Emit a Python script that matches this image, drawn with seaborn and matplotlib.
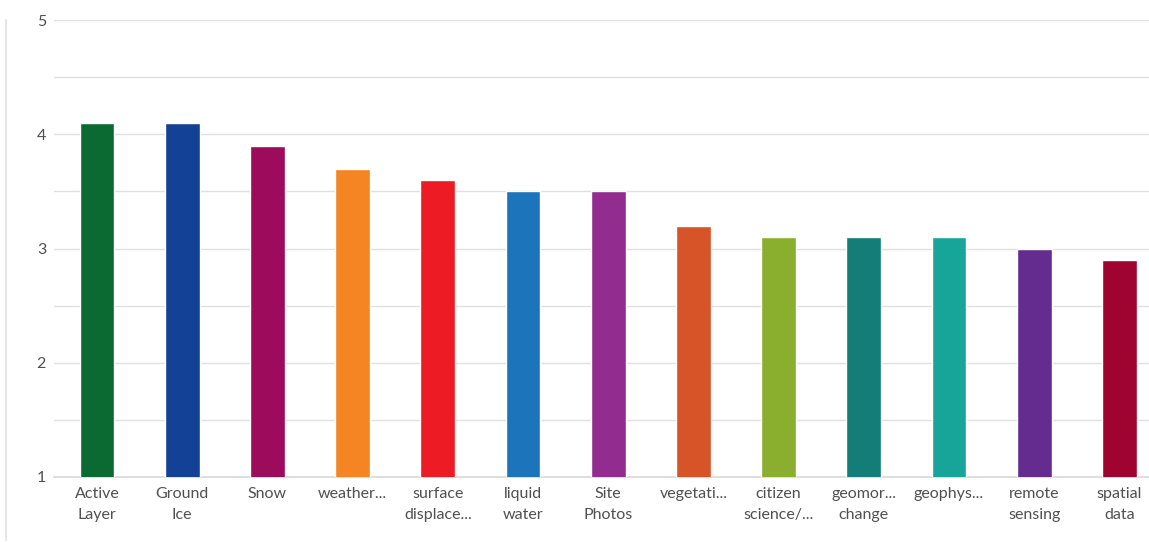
import matplotlib
matplotlib.use("Agg")
import matplotlib.pyplot as plt
from matplotlib.lines import Line2D
import seaborn as sns
import pandas as pd

categories = ["Active\nLayer", "Ground\nIce", "Snow", "weather...", "surface\ndisplace...",
              "liquid\nwater", "Site\nPhotos", "vegetati...", "citizen\nscience/...",
              "geomor...\nchange", "geophys...", "remote\nsensing", "spatial\ndata"]
values = [4.1, 4.1, 3.9, 3.7, 3.6, 3.5, 3.5, 3.2, 3.1, 3.1, 3.1, 3.0, 2.9]
colors = ["#0b6a32", "#134196", "#9c0b5c", "#f58523", "#ed1c24", "#1c74bb", "#922c8f",
          "#d65428", "#8aae2e", "#137d78", "#17a599", "#652c90", "#a10330"]
y_ticks = [1, 1.5, 2, 2.5, 3, 3.5, 4, 4.5, 5]
y_labels = ["1", "", "2", "", "3", "", "4", "", "5"]

sns.set_theme(style="white")
plt.rcParams['font.family'] = ['Lato', 'DejaVu Sans']

df = pd.DataFrame({"cat": categories, "val": values})

fig = plt.figure(figsize=(11.49, 5.42), dpi=100)
ax = fig.add_axes([54.4 / 1149, 65 / 542, (1162 - 54.4) / 1149, 457 / 542])
sns.barplot(data=df, x="cat", y="val", hue="cat", palette=colors, width=0.41,
            legend=False, ax=ax, saturation=1, zorder=3)

ax.set_xlim(-0.5, len(categories) - 0.5)
ax.set_ylim(1, 5)
ax.set_yticks(y_ticks)
ax.set_yticklabels(y_labels)
ax.yaxis.grid(True, color="#e0e0e0", linewidth=1, zorder=0)
ax.set_axisbelow(True)
ax.set_xlabel("")
ax.set_ylabel("")
for s in ["top", "right", "left"]:
    ax.spines[s].set_visible(False)
ax.spines["bottom"].set_color("#d9d9d9")
ax.spines["bottom"].set_linewidth(1.2)
ax.tick_params(axis="both", length=0, labelsize=11.5, labelcolor="#505050")
ax.tick_params(axis="x", pad=7.5)
ax.tick_params(axis="y", pad=6)
for t in ax.get_xticklabels():
    t.set_linespacing(1.6)
    t.set_verticalalignment("top")

fig.add_artist(Line2D([5.5 / 1149, 5.5 / 1149], [2 / 542, 522 / 542],
                      transform=fig.transFigure, color="#e0e0e0", linewidth=1.2))

fig.savefig("out.png", dpi=100)
